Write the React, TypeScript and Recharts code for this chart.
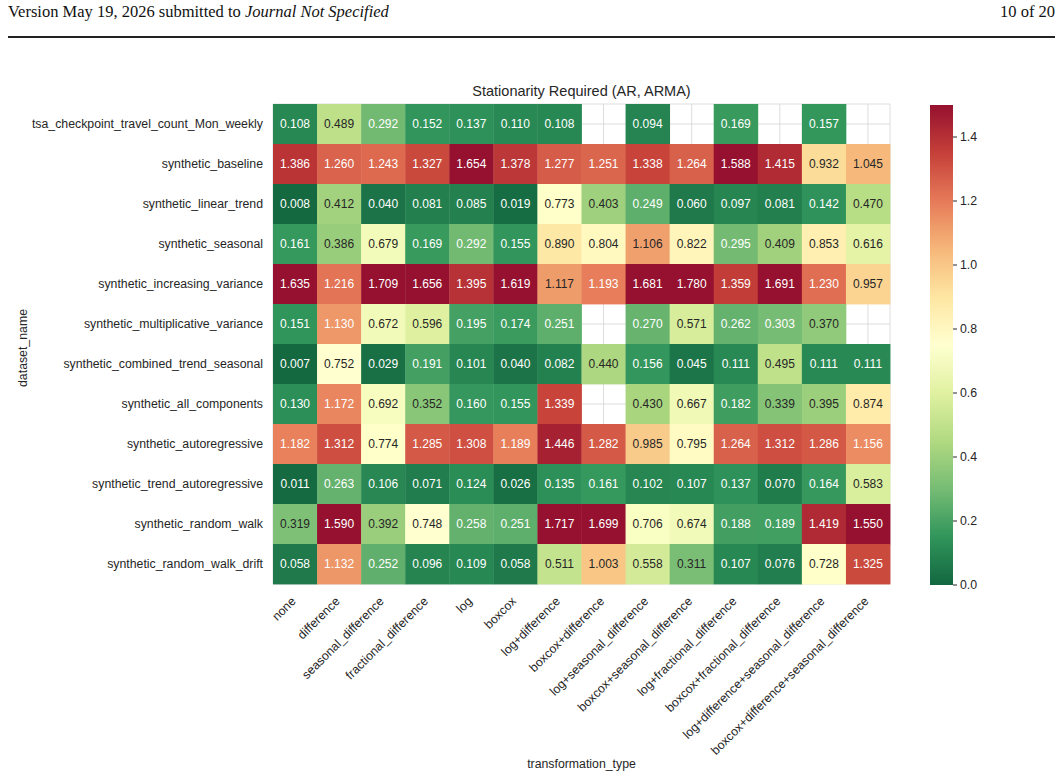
import React from "react";
import {
  ScatterChart,
  Scatter,
  XAxis,
  YAxis,
  CartesianGrid,
  BarChart,
  Bar,
} from "recharts";

// dataset rows (y axis, top to bottom)
const datasets = [
  "tsa_checkpoint_travel_count_Mon_weekly",
  "synthetic_baseline",
  "synthetic_linear_trend",
  "synthetic_seasonal",
  "synthetic_increasing_variance",
  "synthetic_multiplicative_variance",
  "synthetic_combined_trend_seasonal",
  "synthetic_all_components",
  "synthetic_autoregressive",
  "synthetic_trend_autoregressive",
  "synthetic_random_walk",
  "synthetic_random_walk_drift",
];

// transformation columns (x axis, left to right)
const transformations = [
  "none",
  "difference",
  "seasonal_difference",
  "fractional_difference",
  "log",
  "boxcox",
  "log+difference",
  "boxcox+difference",
  "log+seasonal_difference",
  "boxcox+seasonal_difference",
  "log+fractional_difference",
  "boxcox+fractional_difference",
  "log+difference+seasonal_difference",
  "boxcox+difference+seasonal_difference",
];

// one row of scores per dataset, null = not evaluated
const tsaCheckpoint = [0.108, 0.489, 0.292, 0.152, 0.137, 0.11, 0.108, null, 0.094, null, 0.169, null, 0.157, null];
const baseline = [1.386, 1.26, 1.243, 1.327, 1.654, 1.378, 1.277, 1.251, 1.338, 1.264, 1.588, 1.415, 0.932, 1.045];
const linearTrend = [0.008, 0.412, 0.04, 0.081, 0.085, 0.019, 0.773, 0.403, 0.249, 0.06, 0.097, 0.081, 0.142, 0.47];
const seasonal = [0.161, 0.386, 0.679, 0.169, 0.292, 0.155, 0.89, 0.804, 1.106, 0.822, 0.295, 0.409, 0.853, 0.616];
const increasingVariance = [1.635, 1.216, 1.709, 1.656, 1.395, 1.619, 1.117, 1.193, 1.681, 1.78, 1.359, 1.691, 1.23, 0.957];
const multiplicativeVariance = [0.151, 1.13, 0.672, 0.596, 0.195, 0.174, 0.251, null, 0.27, 0.571, 0.262, 0.303, 0.37, null];
const combinedTrendSeasonal = [0.007, 0.752, 0.029, 0.191, 0.101, 0.04, 0.082, 0.44, 0.156, 0.045, 0.111, 0.495, 0.111, 0.111];
const allComponents = [0.13, 1.172, 0.692, 0.352, 0.16, 0.155, 1.339, null, 0.43, 0.667, 0.182, 0.339, 0.395, 0.874];
const autoregressive = [1.182, 1.312, 0.774, 1.285, 1.308, 1.189, 1.446, 1.282, 0.985, 0.795, 1.264, 1.312, 1.286, 1.156];
const trendAutoregressive = [0.011, 0.263, 0.106, 0.071, 0.124, 0.026, 0.135, 0.161, 0.102, 0.107, 0.137, 0.07, 0.164, 0.583];
const randomWalk = [0.319, 1.59, 0.392, 0.748, 0.258, 0.251, 1.717, 1.699, 0.706, 0.674, 0.188, 0.189, 1.419, 1.55];
const randomWalkDrift = [0.058, 1.132, 0.252, 0.096, 0.109, 0.058, 0.511, 1.003, 0.558, 0.311, 0.107, 0.076, 0.728, 1.325];

const rows = [
  tsaCheckpoint,
  baseline,
  linearTrend,
  seasonal,
  increasingVariance,
  multiplicativeVariance,
  combinedTrendSeasonal,
  allComponents,
  autoregressive,
  trendAutoregressive,
  randomWalk,
  randomWalkDrift,
];

const colorbarTicks = [0, 0.2, 0.4, 0.6, 0.8, 1.0, 1.2, 1.4];
const VMIN = 0;
const VMAX = 1.5;

// RdYlGn reversed (green = low, red = high)
const RDYLGN_R = [
  [0, 104, 55],
  [26, 152, 80],
  [102, 189, 99],
  [166, 217, 106],
  [217, 239, 139],
  [255, 255, 191],
  [254, 224, 139],
  [253, 174, 97],
  [244, 109, 67],
  [215, 48, 39],
  [165, 0, 38],
];

function cmap(v: number): number[] {
  const t = Math.min(1, Math.max(0, (v - VMIN) / (VMAX - VMIN)));
  const pos = t * (RDYLGN_R.length - 1);
  const i = Math.min(RDYLGN_R.length - 2, Math.floor(pos));
  const f = pos - i;
  const a = RDYLGN_R[i];
  const b = RDYLGN_R[i + 1];
  return [0, 1, 2].map((k) => a[k] + (b[k] - a[k]) * f);
}

// slightly muted rendering of the palette
const MUTE = 0.2;
function muted(c: number[]): number[] {
  const g = 0.299 * c[0] + 0.587 * c[1] + 0.114 * c[2];
  return c.map((x) => x + (g - x) * MUTE + 6);
}

const toCss = (c: number[]) =>
  `rgb(${c.map((x) => Math.round(Math.min(255, Math.max(0, x)))).join(",")})`;

function luminance(c: number[]) {
  const lin = c.map((x) => {
    const s = x / 255;
    return s <= 0.03928 ? s / 12.92 : Math.pow((s + 0.055) / 1.055, 2.4);
  });
  return 0.2126 * lin[0] + 0.7152 * lin[1] + 0.0722 * lin[2];
}

const cells = rows.flatMap((row, y) =>
  row.map((value, x) => ({ x, y, value })).filter((d) => d.value !== null)
);

const FONT = "'Liberation Sans', Arial, Helvetica, sans-serif";
const SERIF = "'Liberation Serif', 'DejaVu Serif', serif";
const INK = "#262626";

const W = 1061;
const H = 780;
const MARGIN = { top: 104, right: 171, bottom: 16, left: 23 };
const Y_AXIS_W = 250;
const X_AXIS_H = 180;
const PLOT_W = W - MARGIN.left - MARGIN.right - Y_AXIS_W;
const PLOT_H = H - MARGIN.top - MARGIN.bottom - X_AXIS_H;
const CELL_W = PLOT_W / transformations.length;
const CELL_H = PLOT_H / datasets.length;

const HeatCell = (props: any) => {
  const { cx, cy, payload } = props;
  const c = cmap(payload.value);
  const textFill = luminance(c) > 0.408 ? INK : "#ffffff";
  return (
    <g>
      <rect
        x={cx - CELL_W / 2}
        y={cy - CELL_H / 2}
        width={CELL_W + 0.4}
        height={CELL_H + 0.4}
        fill={toCss(muted(c))}
      />
      <text
        x={cx}
        y={cy}
        dy="0.36em"
        textAnchor="middle"
        fontSize={12}
        fontFamily={FONT}
        fill={textFill}
      >
        {payload.value.toFixed(3)}
      </text>
    </g>
  );
};

const XTick = (props: any) => {
  const { x, y, payload } = props;
  const ax = x + 1.5;
  const ay = y + 10;
  return (
    <text
      x={ax}
      y={ay}
      transform={`rotate(-45 ${ax} ${ay})`}
      textAnchor="end"
      fontSize={12.3}
      fontFamily={FONT}
      fill={INK}
    >
      {transformations[payload.value]}
    </text>
  );
};

const YTick = (props: any) => {
  const { x, y, payload } = props;
  return (
    <text
      x={x}
      y={y}
      dy="0.36em"
      textAnchor="end"
      fontSize={12.3}
      fontFamily={FONT}
      fill={INK}
    >
      {datasets[payload.value]}
    </text>
  );
};

const gradientStops = RDYLGN_R.map((c, i) => ({
  offset: `${(i / (RDYLGN_R.length - 1)) * 100}%`,
  color: toCss(muted(c)),
}));

export default function App() {
  const abs = (style: React.CSSProperties): React.CSSProperties => ({
    position: "absolute",
    ...style,
  });
  return (
    <div style={abs({ left: 0, top: 0, width: W, height: H, background: "#fff" })}>
      <svg width={0} height={0} style={{ position: "absolute" }}>
        <defs>
          <linearGradient id="cbarGrad" x1="0" y1="1" x2="0" y2="0">
            {gradientStops.map((s) => (
              <stop key={s.offset} offset={s.offset} stopColor={s.color} />
            ))}
          </linearGradient>
        </defs>
      </svg>

      {/* page header */}
      <div
        style={abs({
          left: 8,
          top: 2,
          fontFamily: SERIF,
          fontSize: 16.5,
          color: "#111",
          whiteSpace: "nowrap",
        })}
      >
        Version May 19, 2026 submitted to <i>Journal Not Specified</i>
      </div>
      <div
        style={abs({
          right: 6,
          top: 2,
          fontFamily: SERIF,
          fontSize: 16.5,
          color: "#111",
        })}
      >
        10 of 20
      </div>
      <div style={abs({ left: 8, top: 36, width: 1047, height: 1.5, background: "#222" })} />

      {/* title and axis labels */}
      <div
        style={abs({
          left: MARGIN.left + Y_AXIS_W,
          width: PLOT_W,
          top: 83,
          textAlign: "center",
          fontFamily: FONT,
          fontSize: 14.5,
          color: INK,
        })}
      >
        Stationarity Required (AR, ARMA)
      </div>
      <div
        style={abs({
          left: MARGIN.left + Y_AXIS_W,
          width: PLOT_W,
          top: 757,
          textAlign: "center",
          fontFamily: FONT,
          fontSize: 12.3,
          color: INK,
        })}
      >
        transformation_type
      </div>
      <div
        style={abs({
          left: 23,
          top: 348,
          transform: "translate(-50%, -50%) rotate(-90deg)",
          fontFamily: FONT,
          fontSize: 12.3,
          color: INK,
          whiteSpace: "nowrap",
        })}
      >
        dataset_name
      </div>

      <div style={abs({ left: 0, top: 0 })}>
        <ScatterChart width={W} height={H} margin={MARGIN}>
          <CartesianGrid stroke="#dddddd" strokeWidth={1} />
          <XAxis
            type="number"
            dataKey="x"
            domain={[-0.5, transformations.length - 0.5]}
            ticks={transformations.map((_, i) => i)}
            interval={0}
            height={X_AXIS_H}
            axisLine={false}
            tickLine={false}
            tick={<XTick />}
          />
          <YAxis
            type="number"
            dataKey="y"
            domain={[-0.5, datasets.length - 0.5]}
            ticks={datasets.map((_, i) => i)}
            interval={0}
            reversed
            width={Y_AXIS_W}
            axisLine={false}
            tickLine={false}
            tickSize={6}
            tickMargin={4}
            tick={<YTick />}
          />
          <Scatter data={cells} shape={<HeatCell />} isAnimationActive={false} />
        </ScatterChart>
      </div>

      {/* colorbar */}
      <div style={abs({ left: 900, top: 0 })}>
        <BarChart
          width={100}
          height={H}
          data={[{ name: "scale", v: VMAX }]}
          margin={{ top: 105, bottom: 195, left: 30, right: 0 }}
          barCategoryGap={0}
        >
          <XAxis dataKey="name" hide />
          <YAxis
            orientation="right"
            domain={[VMIN, VMAX]}
            ticks={colorbarTicks}
            width={47}
            axisLine={false}
            tickSize={4}
            tickMargin={3}
            tickLine={{ stroke: INK }}
            tickFormatter={(v: number) => v.toFixed(1)}
            tick={{ fontSize: 12.3, fontFamily: FONT, fill: INK }}
          />
          <Bar dataKey="v" fill="url(#cbarGrad)" isAnimationActive={false} />
        </BarChart>
      </div>
    </div>
  );
}
